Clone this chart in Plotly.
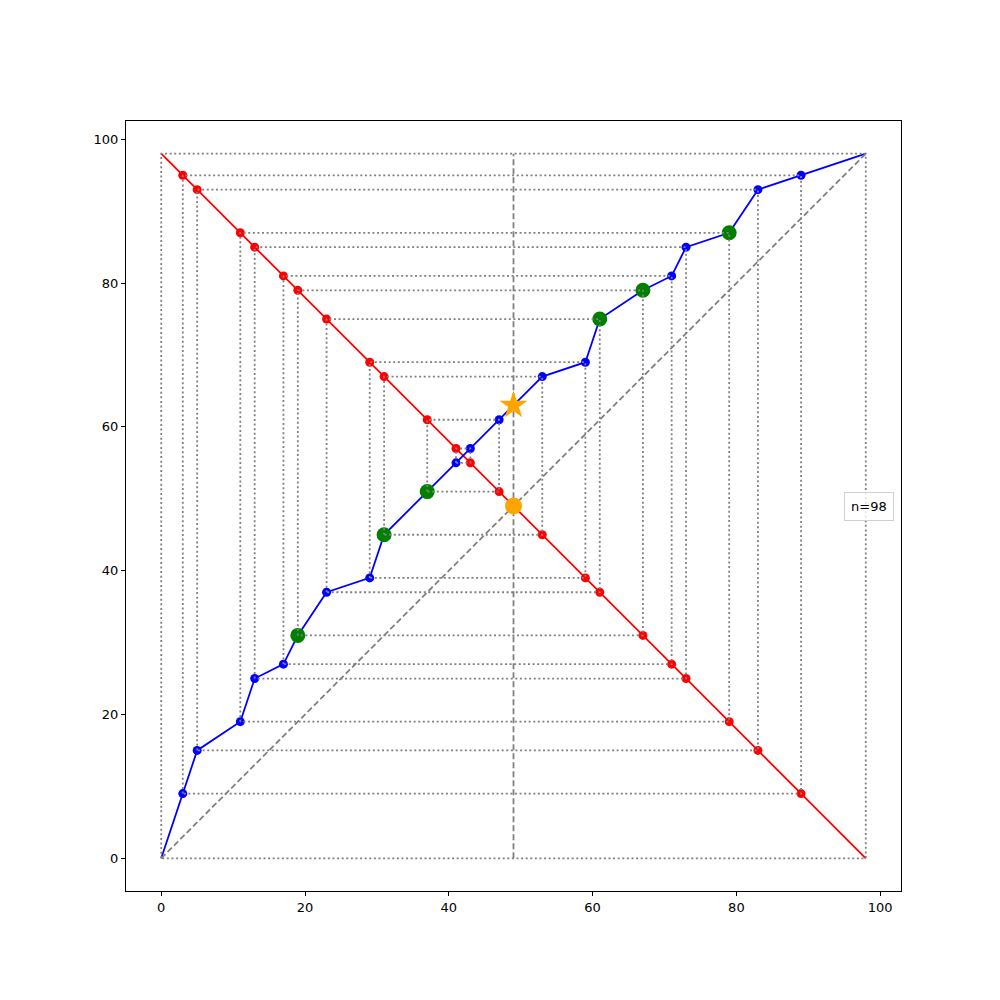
import plotly.graph_objects as go

N = 98
# red points (p, N-p)
red_x = [3, 5, 11, 13, 17, 19, 23, 29, 31, 37, 41, 43, 47, 53, 59, 61, 67, 71, 73, 79, 83, 89]
red_y = [95, 93, 87, 85, 81, 79, 75, 69, 67, 61, 57, 55, 51, 45, 39, 37, 31, 27, 25, 19, 15, 9]
# blue points
blue_x = [3, 5, 11, 13, 17, 19, 23, 29, 31, 37, 41, 43, 47, 53, 59, 61, 67, 71, 73, 79, 83, 89]
blue_y = [9, 15, 19, 25, 27, 31, 37, 39, 45, 51, 55, 57, 61, 67, 69, 75, 79, 81, 85, 87, 93, 95]
# highlighted points
green_x = [19, 31, 37, 61, 67, 79]
green_y = [31, 45, 51, 75, 79, 87]
orange_circle = (49, 49)
orange_star = (49, 63)
ticks = [0, 20, 40, 60, 80, 100]

fig = go.Figure()

# red line and blue line (with endpoints)
fig.add_trace(go.Scatter(x=[0] + red_x + [N], y=[N] + red_y + [0], mode="lines",
                         line=dict(color="red", width=1.8), hoverinfo="skip"))
fig.add_trace(go.Scatter(x=[0] + blue_x + [N], y=[0] + blue_y + [N], mode="lines",
                         line=dict(color="blue", width=1.8), hoverinfo="skip"))
# diagonal and vertical dashed lines
fig.add_trace(go.Scatter(x=[0, N], y=[0, N], mode="lines",
                         line=dict(color="gray", width=1.8, dash="6px,3px")))
fig.add_trace(go.Scatter(x=[N / 2, N / 2], y=[0, N], mode="lines",
                         line=dict(color="gray", width=1.8, dash="6px,3px")))

# markers
fig.add_trace(go.Scatter(x=red_x, y=red_y, mode="markers",
                         marker=dict(color="red", size=9, line=dict(width=0))))
fig.add_trace(go.Scatter(x=blue_x, y=blue_y, mode="markers",
                         marker=dict(color="blue", size=9, line=dict(width=0))))
fig.add_trace(go.Scatter(x=green_x, y=green_y, mode="markers",
                         marker=dict(color="green", size=15, line=dict(width=0))))

# dotted rectangles
bx = [0] + blue_x + [N]
by = [0] + blue_y + [N]
n = len(bx)
rx, ry = [], []
for i in range(n // 2):
    x0, x1 = bx[i], bx[n - 1 - i]
    y0, y1 = by[i], by[n - 1 - i]
    rx += [x0, x0, x1, x1, x0, None]
    ry += [y0, y1, y1, y0, y0, None]
fig.add_trace(go.Scatter(x=rx, y=ry, mode="lines", connectgaps=False,
                         line=dict(color="gray", width=1.8, dash="2px,2.6px"), hoverinfo="skip"))

fig.add_trace(go.Scatter(x=[orange_circle[0]], y=[orange_circle[1]], mode="markers",
                         marker=dict(color="orange", size=17, line=dict(width=0))))
fig.add_trace(go.Scatter(x=[orange_star[0]], y=[orange_star[1]], mode="markers",
                         marker=dict(color="orange", size=21, symbol="star", line=dict(width=0))))

axis_common = dict(tickvals=ticks, showgrid=False, zeroline=False,
                   showline=True, linecolor="black", linewidth=1, mirror=True,
                   ticks="outside", ticklen=4, tickcolor="black",
                   tickfont=dict(family="DejaVu Sans", size=13, color="black"))
fig.update_xaxes(range=[-4.9, 102.9], **axis_common)
fig.update_yaxes(range=[-4.55, 102.55], **axis_common)

fig.add_annotation(xref="paper", yref="paper", x=1, y=0.5, xanchor="right", yanchor="middle",
                   xshift=-7, text="n=98", showarrow=False,
                   font=dict(family="DejaVu Sans", size=13, color="black"),
                   bgcolor="rgba(255,255,255,0.8)", bordercolor="#d0d0d0", borderwidth=1, borderpad=6)

fig.update_layout(width=1000, height=1000, showlegend=False,
                  margin=dict(l=118, r=107, t=113, b=117),
                  plot_bgcolor="white", paper_bgcolor="white")

fig.write_html("out.html")
